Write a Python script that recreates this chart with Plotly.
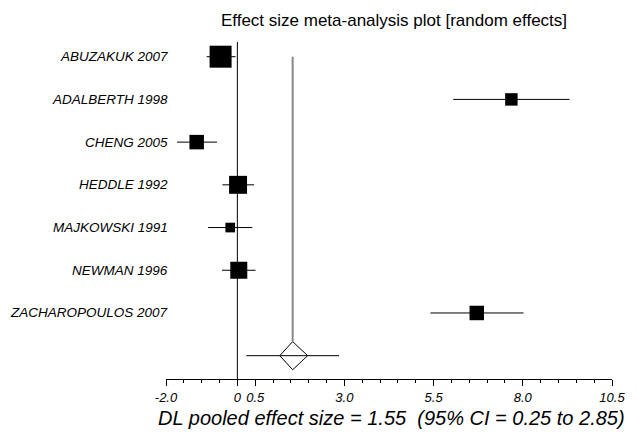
import plotly.graph_objects as go

studies = ["ABUZAKUK 2007", "ADALBERTH 1998", "CHENG 2005", "HEDDLE 1992",
           "MAJKOWSKI 1991", "NEWMAN 1996", "ZACHAROPOULOS 2007"]
effect = [-0.47, 7.68, -1.14, 0.02, -0.20, 0.04, 6.71]
ci_low = [-0.86, 6.05, -1.69, -0.42, -0.82, -0.43, 5.41]
ci_high = [-0.05, 9.31, -0.57, 0.47, 0.42, 0.51, 8.02]
weight_pct = [27.4, 8.8, 11.9, 18.3, 5.3, 16.4, 11.9]

pooled_est = 1.55
pooled_ci = [0.25, 2.85]
pooled_diamond = [1.19, 1.97]

tick_vals = [-2.0, 0, 0.5, 3.0, 5.5, 8.0, 10.5]
tick_text = ["-2.0", "0", "0.5", "3.0", "5.5", "8.0", "10.5"]

FONT = "Arial, 'Liberation Sans', sans-serif"
n = len(studies)
rows = list(range(n))
pooled_row = n

fig = go.Figure()

# CI lines
xs, ys = [], []
for i in rows:
    xs += [ci_low[i], ci_high[i], None]
    ys += [i, i, None]
xs += [pooled_ci[0], pooled_ci[1], None]
ys += [pooled_row, pooled_row, None]
fig.add_trace(go.Scatter(x=xs, y=ys, mode="lines",
                         line=dict(color="black", width=1),
                         hoverinfo="skip", showlegend=False))

# squares
sizes = [4.2 * (w ** 0.5) for w in weight_pct]
fig.add_trace(go.Scatter(x=effect, y=rows, mode="markers",
                         marker=dict(symbol="square", size=sizes, color="black",
                                     opacity=1, line=dict(width=0)),
                         showlegend=False))

# diamond
h = 0.33
fig.add_trace(go.Scatter(
    x=[pooled_diamond[0], pooled_est, pooled_diamond[1], pooled_est, pooled_diamond[0]],
    y=[pooled_row, pooled_row - h, pooled_row, pooled_row + h, pooled_row],
    mode="lines", line=dict(color="black", width=1), showlegend=False))

# zero line
fig.add_shape(type="line", x0=0, x1=0, xref="x", yref="paper", y0=0, y1=1,
              line=dict(color="black", width=1))
# pooled line
fig.add_shape(type="line", x0=pooled_est, x1=pooled_est, xref="x", yref="y",
              y0=0, y1=pooled_row - h, line=dict(color="#888888", width=2))

for i, s in enumerate(studies):
    fig.add_annotation(x=0, xref="paper", y=i, yref="y", text=s,
                       xanchor="right", yanchor="middle", xshift=4,
                       showarrow=False,
                       font=dict(family=FONT, size=13.5, color="black", style="italic"))

fig.add_annotation(x=0.506, xref="paper", y=-0.116, yref="paper",
                   text="DL pooled effect size = 1.55 \u00a0(95% CI = 0.25 to 2.85)",
                   xanchor="center", yanchor="middle", showarrow=False,
                   font=dict(family=FONT, size=20, color="black", style="italic"))

fig.update_layout(
    width=637, height=440,
    margin=dict(l=166, r=17, t=42, b=61),
    paper_bgcolor="white", plot_bgcolor="white",
    title=dict(text="Effect size meta-analysis plot [random effects]",
               x=0.6185, xanchor="center", y=1 - 20 / 440, yanchor="middle",
               font=dict(family=FONT, size=17, color="black")),
    xaxis=dict(range=[-2, 10.5], showgrid=False, zeroline=False,
               showline=True, linecolor="black", linewidth=1,
               tickmode="array", tickvals=tick_vals, ticktext=tick_text,
               ticks="outside", ticklen=6, tickcolor="black", tickwidth=1,
               tickfont=dict(family=FONT, size=13, color="black", style="italic"),
               minor=dict(tick0=-2, dtick=0.5, ticks="outside", ticklen=3,
                          tickcolor="black", tickwidth=1, showgrid=False)),
    yaxis=dict(range=[7.546, -0.344], visible=False, showgrid=False, zeroline=False),
    showlegend=False,
)

fig.write_html("out.html")
